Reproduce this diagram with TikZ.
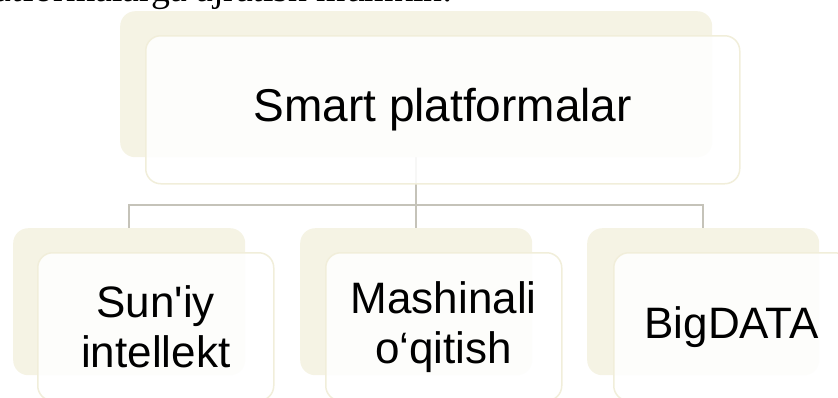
\documentclass[tikz,border=0pt]{standalone}
\usepackage{fontspec}
\setmainfont{Liberation Sans}
\newfontfamily\capfont{Liberation Serif}
\usetikzlibrary{backgrounds}
\definecolor{backc}{HTML}{F5F3E4}
\definecolor{edgec}{HTML}{F1EEDA}
\definecolor{linec}{HTML}{C5C3B9}
\tikzset{
  backbox/.style={fill=backc, draw=none, rounded corners=15pt, inner sep=0pt, anchor=north west},
  frontbox/.style={fill=white, fill opacity=0.88, text opacity=1, draw=edgec, line width=1.5pt,
    rounded corners=15pt, inner sep=0pt, anchor=north west, align=center},
  conn/.style={draw=linec, line width=2pt},
  toptext/.style={font=\fontsize{46}{55}\selectfont},
  subtext/.style={font=\fontsize{44}{50}\selectfont},
}
\begin{document}
\begin{tikzpicture}[x=1pt,y=-1pt]
\useasboundingbox (0,0) rectangle (838,397);
\clip (0,0) rectangle (838,397);
\node[anchor=base east, inner sep=0pt, font=\capfont\fontsize{37.7}{44}\selectfont] (cap) at (453,1.5) {platformalarga ajratish mumkin:};
% back boxes
\node[backbox, minimum width=592pt, minimum height=146pt] (tback) at (120,11) {};
\node[backbox, minimum width=232pt, minimum height=147pt] (b1back) at (13,228) {};
\node[backbox, minimum width=232pt, minimum height=147pt] (b2back) at (300,228) {};
\node[backbox, minimum width=232pt, minimum height=147pt] (b3back) at (587,228) {};
% front boxes
\node[frontbox, toptext, minimum width=594pt, minimum height=148pt] (top) at (145,35) {Smart platformalar};
\node[frontbox, subtext, minimum width=236pt, minimum height=148pt] (b1) at (37,252) {Sun\textquotesingle iy\\intellekt};
\node[frontbox, subtext, minimum width=236pt, minimum height=148pt] (b2) at (325,252) {Mashinali\\o‘qitish};
\node[frontbox, subtext, minimum width=236pt, minimum height=148pt] (b3) at (613,252) {BigDATA};
% connectors
\begin{scope}[on background layer]
\draw[conn] (tback.south) -- ++(0,48) -| (b1back.north);
\draw[conn] (tback.south) -- ++(0,48) -| (b3back.north);
\draw[conn] (tback.south) -- (b2back.north);
\end{scope}
\end{tikzpicture}
\end{document}
